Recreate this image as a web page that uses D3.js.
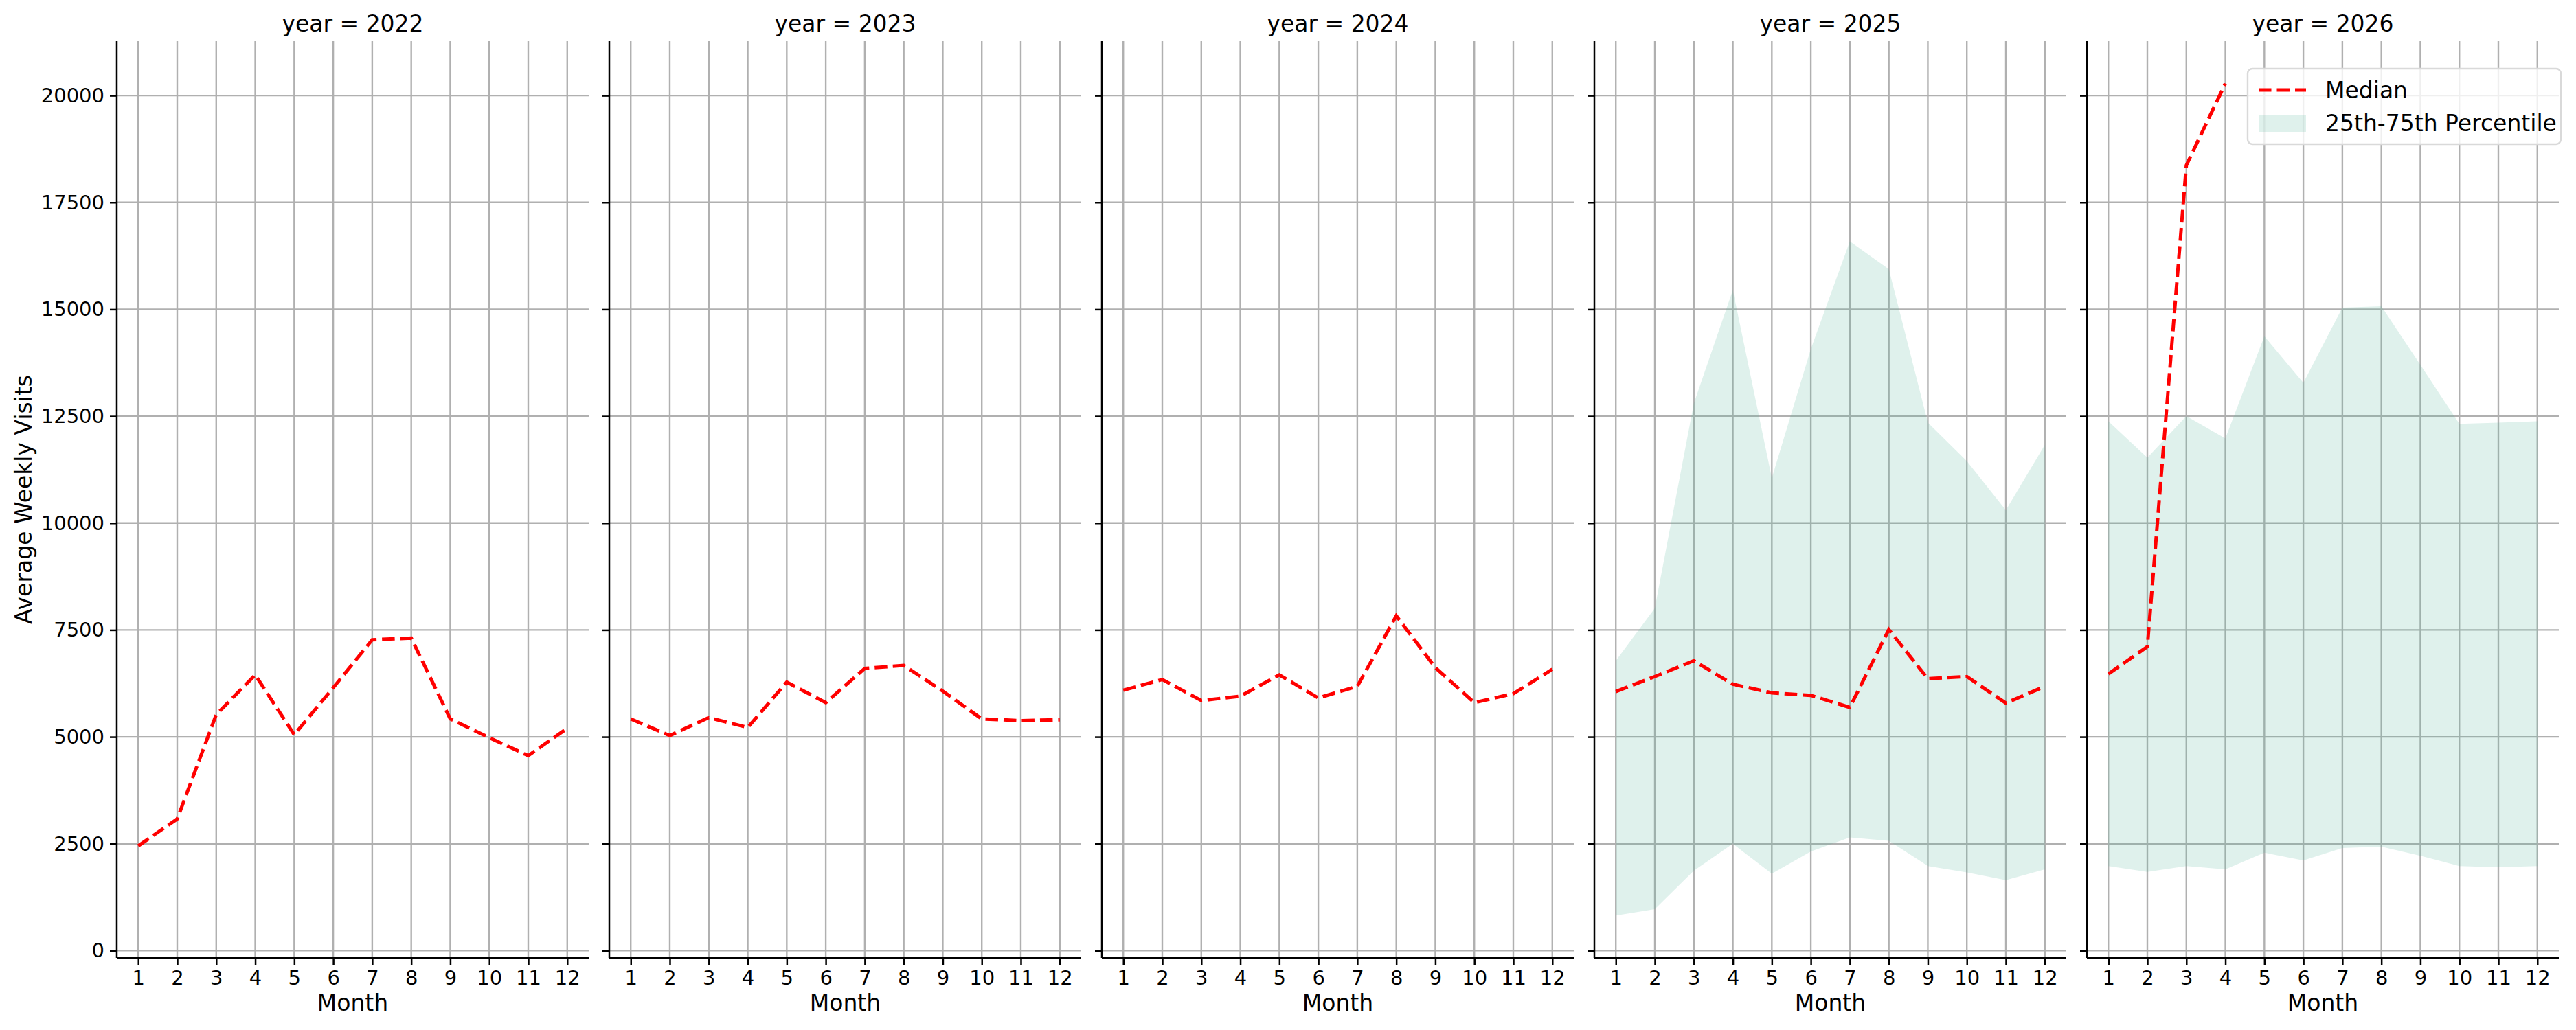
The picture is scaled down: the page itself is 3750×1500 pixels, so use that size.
<!DOCTYPE html>
<html>
<head>
<meta charset="utf-8">
<script src="https://cdn.jsdelivr.net/npm/d3@7"></script>
<style>
  body { margin: 0; background: #fff; }
  text { font-family: "DejaVu Sans", sans-serif; fill: #000; }
</style>
</head>
<body>
<svg id="chart" width="3750" height="1500"></svg>
<script>
var years = [2022, 2023, 2024, 2025, 2026];
var months = [1, 2, 3, 4, 5, 6, 7, 8, 9, 10, 11, 12];
var yTicks = [0, 2500, 5000, 7500, 10000, 12500, 15000, 17500, 20000];

var median2022 = [2450, 3080, 5520, 6450, 5050, 6150, 7270, 7310, 5420, 4980, 4560, 5200];
var median2023 = [5420, 5030, 5450, 5220, 6280, 5800, 6600, 6670, 6070, 5420, 5380, 5400];
var median2024 = [6090, 6340, 5850, 5950, 6450, 5910, 6180, 7830, 6620, 5800, 6010, 6580];
var median2025 = [6060, 6410, 6780, 6230, 6030, 5970, 5690, 7510, 6360, 6410, 5790, 6180];
var median2026 = [6470, 7110, 18370, 20280, null, null, null, null, null, null, null, null];

var p25_2025 = [820, 970, 1870, 2500, 1800, 2320, 2650, 2570, 1980, 1830, 1650, 1900];
var p75_2025 = [6780, 8010, 12800, 15450, 11050, 14070, 16590, 15940, 12350, 11450, 10300, 11830];
var p25_2026 = [1980, 1840, 1980, 1900, 2290, 2110, 2400, 2430, 2220, 1980, 1950, 1980];
var p75_2026 = [12380, 11530, 12500, 11980, 14370, 13280, 15040, 15070, 13700, 12320, 12350, 12380];

var medians = [median2022, median2023, median2024, median2025, median2026];
var lows = [null, null, null, p25_2025, p25_2026];
var highs = [null, null, null, p75_2025, p75_2026];

var svg = d3.select('#chart');
var plotTop = 60, plotBottom = 1395, panelW = 687, step = 717, left0 = 170;

var y = d3.scaleLinear().domain([-170, 21270]).range([plotBottom, plotTop]);

years.forEach(function (yr, p) {
    var x0 = left0 + p * step;
    var x = d3.scaleLinear().domain([0.45, 12.55]).range([x0, x0 + panelW]);
    var g = svg.append('g');

    // grid
    g.selectAll('.vg').data(months).enter().append('line')
        .attr('x1', function (d) { return x(d) }).attr('x2', function (d) { return x(d) })
        .attr('y1', plotTop).attr('y2', plotBottom)
        .attr('stroke', '#b0b0b0').attr('stroke-width', 2.4);
    g.selectAll('.hg').data(yTicks).enter().append('line')
        .attr('x1', x0).attr('x2', x0 + panelW)
        .attr('y1', function (d) { return y(d) }).attr('y2', function (d) { return y(d) })
        .attr('stroke', '#b0b0b0').attr('stroke-width', 2.4);

    // band
    if (lows[p]) {
        var area = d3.area()
            .x(function (d, i) { return x(months[i]) })
            .y0(function (d, i) { return y(lows[p][i]) })
            .y1(function (d) { return y(d) });
        g.append('path').datum(highs[p]).attr('d', area)
            .attr('fill', '#5fb9a0').attr('fill-opacity', 0.2);
    }

    // median
    var line = d3.line()
        .defined(function (d) { return d != null })
        .x(function (d, i) { return x(months[i]) })
        .y(function (d) { return y(d) });
    g.append('path').datum(medians[p]).attr('d', line)
        .attr('fill', 'none').attr('stroke', '#ff0000')
        .attr('stroke-width', 5).attr('stroke-dasharray', '18.5,8');

    // axes
    var xa = g.append('g').attr('transform', 'translate(0,' + plotBottom + ')')
        .call(d3.axisBottom(x).tickValues(months).tickSize(10).tickPadding(8));
    var ya = g.append('g').attr('transform', 'translate(' + x0 + ',0)')
        .call(d3.axisLeft(y).tickValues(yTicks).tickSize(10).tickPadding(8)
            .tickFormat(p == 0 ? d3.format('d') : ''));
    [xa, ya].forEach(function (a) {
        a.select('.domain').attr('stroke', '#000').attr('stroke-width', 2.5);
        a.selectAll('.tick line').attr('stroke', '#000').attr('stroke-width', 2.5);
        a.selectAll('text').attr('font-size', 29).attr('font-family', 'DejaVu Sans').attr('fill', '#000');
    });
    xa.select('.domain').attr('d', 'M' + x0 + ',0H' + (x0 + panelW));
    ya.select('.domain').attr('d', 'M0,' + plotTop + 'V' + plotBottom);

    g.append('text').attr('x', x0 + panelW / 2).attr('y', 46)
        .attr('text-anchor', 'middle').attr('font-size', 33).text('year = ' + yr);
    g.append('text').attr('x', x0 + panelW / 2).attr('y', 1472)
        .attr('text-anchor', 'middle').attr('font-size', 33).text('Month');

    if (p == 4) {
        var lg = g.append('g');
        lg.append('rect').attr('x', 3272).attr('y', 100).attr('width', 456).attr('height', 110)
            .attr('rx', 7).attr('fill', '#fff').attr('fill-opacity', 0.8)
            .attr('stroke', '#d9d9d9').attr('stroke-width', 2.4);
        lg.append('line').attr('x1', 3288).attr('x2', 3357).attr('y1', 131).attr('y2', 131)
            .attr('stroke', '#ff0000').attr('stroke-width', 5).attr('stroke-dasharray', '18.5,8');
        lg.append('rect').attr('x', 3288).attr('y', 168).attr('width', 69).attr('height', 24)
            .attr('fill', '#5fb9a0').attr('fill-opacity', 0.2);
        lg.append('text').attr('x', 3385).attr('y', 143).attr('font-size', 33).text('Median');
        lg.append('text').attr('x', 3385).attr('y', 191).attr('font-size', 33).text('25th-75th Percentile');
    }
});

svg.append('text').attr('transform', 'translate(46,' + ((plotTop + plotBottom) / 2) + ') rotate(-90)')
    .attr('text-anchor', 'middle').attr('font-size', 33).text('Average Weekly Visits');
</script>
</body>
</html>
